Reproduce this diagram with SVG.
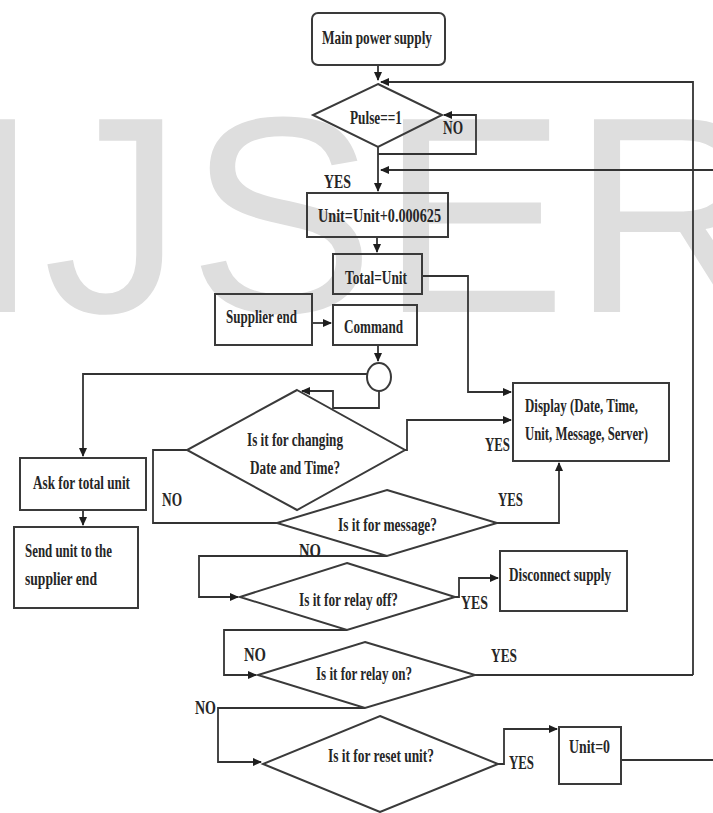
<svg xmlns="http://www.w3.org/2000/svg" width="713" height="813" viewBox="0 0 713 813">
<defs>
<marker id="ah" markerWidth="9" markerHeight="8" refX="8" refY="4" orient="auto" markerUnits="userSpaceOnUse">
<path d="M0,0 L9,4 L0,8 z" fill="#1e1e1e"/>
</marker>
<style>
.wm{font-family:"Liberation Sans",Arial,sans-serif;font-size:280px;fill:#dedede}
.box{fill:none;stroke:#3a3a3a;stroke-width:2}
.con{fill:none;stroke:#333;stroke-width:1.8}
.arr{marker-end:url(#ah)}
text.t{font-family:"Liberation Serif","Times New Roman",serif;font-size:18px;font-weight:bold;fill:#262626}
</style>
</defs>
<rect width="713" height="813" fill="#fff"/>
<text class="wm" x="-37 43 188 380 571" y="312">IJSER</text>

<g id="connectors">
<path class="con arr" d="M378,65 V80"/>
<path class="con arr" d="M693,675 V82 H381"/>
<path class="con arr" d="M378,147 V191"/>
<path class="con arr" d="M378,154 H476 V115 H444"/>
<path class="con arr" d="M713,170 H381"/>
<path class="con arr" d="M377,237 V252"/>
<path class="con arr" d="M422,276 H468 V392 H511"/>
<path class="con arr" d="M312,323 H331"/>
<path class="con arr" d="M378,345 V361"/>
<path class="con arr" d="M367,374 H83 V456"/>
<path class="con arr" d="M379,391 V408 H333 V391 H302"/>
<path class="con arr" d="M83,510 V525"/>
<path class="con arr" d="M405,450 H407 V420 H511"/>
<path class="con" d="M187,450 H153 V523 H277"/>
<path class="con arr" d="M497,523 H559 V463"/>
<path class="con arr" d="M387,556 H199 V597 H238"/>
<path class="con arr" d="M455,597 H459 V578 H498"/>
<path class="con arr" d="M347,630 H224 V675 H256"/>
<path class="con" d="M475,675 H693"/>
<path class="con arr" d="M365,708 H218 V762 H261"/>
<path class="con arr" d="M498,764 H504 V729 H557"/>
<path class="con" d="M621,760 H713"/>
</g>

<g id="labels">
<text class="t" x="324" y="188" textLength="27" lengthAdjust="spacingAndGlyphs">YES</text>
<text class="t" x="443" y="134" textLength="20" lengthAdjust="spacingAndGlyphs">NO</text>
<text class="t" x="485" y="451" textLength="25" lengthAdjust="spacingAndGlyphs">YES</text>
<text class="t" x="162" y="506" textLength="20" lengthAdjust="spacingAndGlyphs">NO</text>
<text class="t" x="498" y="506" textLength="25" lengthAdjust="spacingAndGlyphs">YES</text>
<text class="t" x="299" y="557" textLength="22" lengthAdjust="spacingAndGlyphs">NO</text>
<text class="t" x="461" y="609" textLength="27" lengthAdjust="spacingAndGlyphs">YES</text>
<text class="t" x="244" y="661" textLength="22" lengthAdjust="spacingAndGlyphs">NO</text>
<text class="t" x="491" y="662" textLength="26" lengthAdjust="spacingAndGlyphs">YES</text>
<text class="t" x="195" y="714" textLength="21" lengthAdjust="spacingAndGlyphs">NO</text>
<text class="t" x="509" y="769" textLength="25" lengthAdjust="spacingAndGlyphs">YES</text>
</g>

<g id="main">
<rect class="box" x="312" y="13" width="133" height="52" rx="6"/>
<text class="t" x="322" y="44" textLength="110" lengthAdjust="spacingAndGlyphs">Main power supply</text>
</g>
<g id="pulse">
<polygon class="box" points="378,84 442,115 378,147 313,115"/>
<text class="t" x="350" y="124" textLength="52" lengthAdjust="spacingAndGlyphs">Pulse==1</text>
</g>
<g id="unit">
<rect class="box" x="307" y="193" width="141" height="44"/>
<text class="t" x="318" y="222" textLength="123" lengthAdjust="spacingAndGlyphs">Unit=Unit+0.000625</text>
</g>
<g id="total">
<rect class="box" x="333" y="254" width="89" height="40"/>
<text class="t" x="345" y="284" textLength="62" lengthAdjust="spacingAndGlyphs">Total=Unit</text>
</g>
<g id="supplier">
<rect class="box" x="215" y="294" width="97" height="51"/>
<text class="t" x="226" y="323" textLength="71" lengthAdjust="spacingAndGlyphs">Supplier end</text>
</g>
<g id="command">
<rect class="box" x="333" y="305" width="84" height="40"/>
<text class="t" x="344" y="333" textLength="59" lengthAdjust="spacingAndGlyphs">Command</text>
</g>
<g id="junction">
<ellipse class="box" cx="379" cy="377" rx="12" ry="14"/>
</g>
<g id="changeDate">
<polygon class="box" points="297,390 405,450 297,510 187,450"/>
<text class="t" x="247" y="446" textLength="96" lengthAdjust="spacingAndGlyphs">Is it for changing</text>
<text class="t" x="250" y="474" textLength="90" lengthAdjust="spacingAndGlyphs">Date and Time?</text>
</g>
<g id="display">
<rect class="box" x="513" y="383" width="156" height="78"/>
<text class="t" x="525" y="412" textLength="113" lengthAdjust="spacingAndGlyphs">Display (Date, Time,</text>
<text class="t" x="525" y="440" textLength="123" lengthAdjust="spacingAndGlyphs">Unit, Message, Server)</text>
</g>
<g id="askTotal">
<rect class="box" x="20" y="458" width="126" height="52"/>
<text class="t" x="33" y="489" textLength="97" lengthAdjust="spacingAndGlyphs">Ask for total unit</text>
</g>
<g id="sendUnit">
<rect class="box" x="14" y="527" width="124" height="81"/>
<text class="t" x="25" y="557" textLength="87" lengthAdjust="spacingAndGlyphs">Send unit to the</text>
<text class="t" x="25" y="585" textLength="72" lengthAdjust="spacingAndGlyphs">supplier end</text>
</g>
<g id="message">
<polygon class="box" points="387,490 497,523 387,556 277,523"/>
<text class="t" x="338" y="531" textLength="99" lengthAdjust="spacingAndGlyphs">Is it for message?</text>
</g>
<g id="relayOff">
<polygon class="box" points="347,563 455,597 347,630 240,597"/>
<text class="t" x="299" y="606" textLength="99" lengthAdjust="spacingAndGlyphs">Is it for relay off?</text>
</g>
<g id="disconnect">
<rect class="box" x="500" y="551" width="127" height="60"/>
<text class="t" x="509" y="581" textLength="102" lengthAdjust="spacingAndGlyphs">Disconnect supply</text>
</g>
<g id="relayOn">
<polygon class="box" points="365,642 475,675 365,708 258,675"/>
<text class="t" x="316" y="680" textLength="96" lengthAdjust="spacingAndGlyphs">Is it for relay on?</text>
</g>
<g id="resetUnit">
<polygon class="box" points="380,716 498,764 380,812 263,764"/>
<text class="t" x="328" y="762" textLength="106" lengthAdjust="spacingAndGlyphs">Is it for reset unit?</text>
</g>
<g id="unitZero">
<rect class="box" x="559" y="727" width="62" height="57"/>
<text class="t" x="569" y="753" textLength="41" lengthAdjust="spacingAndGlyphs">Unit=0</text>
</g>
</svg>
